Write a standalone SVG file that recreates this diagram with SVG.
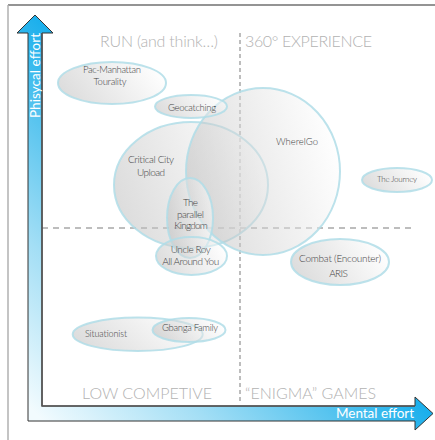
<svg xmlns="http://www.w3.org/2000/svg" width="435" height="440" viewBox="0 0 435 440">
<defs>
<linearGradient id="axisGrad" gradientUnits="userSpaceOnUse" x1="35" y1="413" x2="245" y2="205">
<stop offset="0" stop-color="#f2fbfe"/>
<stop offset="0.4" stop-color="#a2def5"/>
<stop offset="0.75" stop-color="#4cc0ee"/>
<stop offset="1" stop-color="#0eabec"/>
</linearGradient>
<linearGradient id="nodeGrad" x1="0" y1="0.65" x2="1" y2="0.35">
<stop offset="0" stop-color="#b9b9b9"/>
<stop offset="1" stop-color="#ffffff"/>
</linearGradient>
</defs>
<style>
.node ellipse{fill:url(#nodeGrad);fill-opacity:0.5;stroke:#b0dde8;stroke-opacity:0.85;stroke-width:2}
.lbl{font-family:Lato,"Liberation Sans",sans-serif;font-weight:300;font-size:9.5px;fill:#3f3f3f;text-anchor:middle}
.quad{font-family:Lato,"Liberation Sans",sans-serif;font-weight:300;font-size:16px;fill:#b2b2b2}
.axl{font-family:Lato,"Liberation Sans",sans-serif;font-weight:400;font-size:13.5px;fill:#ffffff;text-anchor:middle}
.dash{stroke:#a8a8a8;stroke-width:1.5;fill:none}
</style>
<rect x="0" y="0" width="435" height="440" fill="#ffffff"/>
<line x1="8" y1="5" x2="435" y2="5" stroke="#707070" stroke-width="1.5"/>
<line x1="8" y1="5" x2="8" y2="440" stroke="#b0b0b0" stroke-width="1.5"/>

<g id="connectors">
<line class="dash" x1="240" y1="33" x2="240" y2="404" stroke-dasharray="4 3"/>
<line class="dash" x1="42" y1="228" x2="415" y2="228" stroke-dasharray="6 5"/>
</g>

<g id="axes">
<path d="M28,33 L17,33 L35,15 L53,33 L42,33 L42,406 L415,406 L415,397 L433,413.5 L415,430 L415,421 L28,421 Z" fill="url(#axisGrad)" stroke="#333" stroke-width="1"/>
<path d="M42,33 L42,406 L415,406" fill="none" stroke="#555" stroke-width="1.6"/>
<text class="axl" transform="translate(39.5,75.5) rotate(-90)" textLength="85">Phisycal effort</text>
<text class="axl" x="375" y="418" textLength="78">Mental effort</text>
</g>

<g id="quadrants">
<text class="quad" x="100" y="47" textLength="118">RUN (and think…)</text>
<text class="quad" x="245" y="47" textLength="127">360° EXPERIENCE</text>
<text class="quad" x="82" y="399" textLength="130">LOW COMPETIVE</text>
<text class="quad" x="245" y="399" textLength="131">“ENIGMA” GAMES</text>
</g>

<g id="node-criticalcity" class="node">
<ellipse cx="191" cy="185" rx="77" ry="63"/>
</g>
<g id="node-whereigo" class="node">
<ellipse cx="263" cy="171.5" rx="77" ry="83.5"/>
</g>
<g id="node-pacmanhattan" class="node">
<ellipse cx="112" cy="83" rx="54" ry="21"/>
</g>
<g id="node-geocatching" class="node">
<ellipse cx="191" cy="106.5" rx="36" ry="11.5"/>
</g>
<g id="node-parallelkingdom" class="node">
<ellipse cx="190" cy="218" rx="23" ry="40"/>
</g>
<g id="node-uncleroy" class="node">
<ellipse cx="191.5" cy="256" rx="35.5" ry="19"/>
</g>
<g id="node-thejourney" class="node">
<ellipse cx="397" cy="180" rx="35" ry="12"/>
</g>
<g id="node-combat" class="node">
<ellipse cx="340" cy="262" rx="49" ry="23"/>
</g>
<g id="node-situationist" class="node">
<ellipse cx="137.7" cy="334.3" rx="65" ry="16.7"/>
</g>
<g id="node-gbanga" class="node">
<ellipse cx="189" cy="330" rx="36.5" ry="12"/>
</g>

<g id="labels">
<text class="lbl" x="112" y="73" textLength="58">Pac-Manhattan</text>
<text class="lbl" x="110" y="85" textLength="33">Tourality</text>
<text class="lbl" x="192" y="111" textLength="48">Geocatching</text>
<text class="lbl" x="297" y="145" textLength="42">WhereIGo</text>
<text class="lbl" x="151" y="163" style="font-size:10px" textLength="46">Critical City</text>
<text class="lbl" x="151" y="176" style="font-size:10px" textLength="28">Upload</text>
<text class="lbl" x="190.5" y="206" style="font-size:10px" textLength="15">The</text>
<text class="lbl" x="190.5" y="218" style="font-size:10px" textLength="27">parallel</text>
<text class="lbl" x="191" y="229" style="font-size:10px" textLength="33.7">Kingdom</text>
<text class="lbl" x="190.7" y="253" style="font-size:10px" textLength="40">Uncle Roy</text>
<text class="lbl" x="190.7" y="265" style="font-size:10px" textLength="57">All Around You</text>
<text class="lbl" x="397" y="182" style="font-size:8px" textLength="40">The Journey</text>
<text class="lbl" x="340" y="262" style="font-size:10px" textLength="82">Combat (Encounter)</text>
<text class="lbl" x="338.5" y="277" style="font-size:10px" textLength="18.7">ARIS</text>
<text class="lbl" x="106" y="337" style="font-size:9px" textLength="42">Situationist</text>
<text class="lbl" x="190" y="331" textLength="56">Gbanga Family</text>
</g>
</svg>
